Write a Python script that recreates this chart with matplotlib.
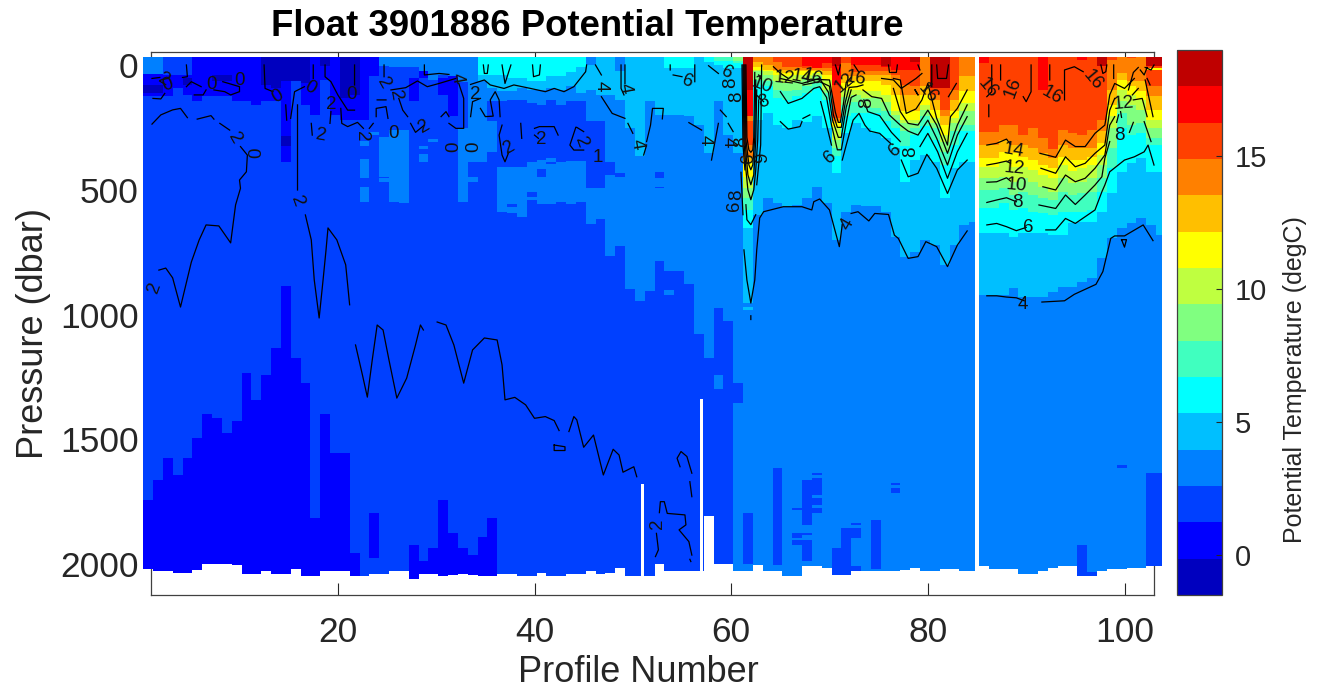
import numpy as np
import matplotlib
matplotlib.use('Agg')
import matplotlib.pyplot as plt
from matplotlib.colors import ListedColormap

plt.rcParams['font.family'] = ['Liberation Sans', 'DejaVu Sans']

### 0. Values (pressures in dbar, profiles 1..104)

jet15 = [(0, 0, .75), (0, 0, 1), (0, .25, 1), (0, .5, 1), (0, .75, 1), (0, 1, 1),
         (.25, 1, .75), (.5, 1, .5), (.75, 1, .25), (1, 1, 0), (1, .75, 0),
         (1, .5, 0), (1, .25, 0), (1, 0, 0), (.75, 0, 0)]
# temperature standing for each colour band, coldest first
navy, blue, royal, azure, sky, cyan, turq, green, lime, yellow, amber, orange, redor, red, dark = \
    -0.8, 0.5, 1.9, 3.3, 4.6, 6.0, 7.4, 8.7, 10.1, 11.5, 12.8, 14.2, 15.6, 16.9, 18.3

bottom = [2020, 2028, 2028, 2036, 2036, 2024, 2000, 2000, 2000, 2004, 2040, 2040, 2028, 2040, 2040, 2020,
          2048, 2048, 2028, 2028, 2028, 2048, 2048, 2040, 2040, 2028, 2028, 2060, 2040, 2040, 2048, 2044,
          2040, 2044, 2048, 2048, 2040, 2040, 2048, 2048, 2036, 2048, 2048, 2040, 2040, 2028, 2040, 2036,
          2016, 2048, 2048, 2048, 2000, 2028, 2028, 2028, 2028, 1807, 2000, 2000, 2028, 2028, 2004, 2028,
          2028, 2048, 2048, 2008, 2008, 2016, 2044, 2044, 2028, 2028, 2028, 2028, 2028, 2024, 2016, 2028,
          2028, 2020, 2020, 2028, 2028, 2008, 2020, 2020, 2020, 2040, 2040, 2028, 2016, 2008, 2008, 2048,
          2048, 2028, 2020, 2020, 2016, 2016, 2008, 2008]

# top of the deep cold water, profiles 1..36 (2100 = none)
deep_top = [1743, 1663, 1575, 1643, 1575, 1495, 1398, 1414, 1475, 1426, 1234, 1342, 1242, 1134, 886, 1174,
            1274, 1815, 1398, 1555, 1555, 1955, 2100, 2100, 2100, 2100, 2100, 1923, 1988, 1935, 1743, 1875,
            1935, 1963, 1891, 1815]

# lower limit of the azure band, profiles 34..60
azure_low = [388, 388, 350, 588, 594, 614, 541, 557, 557, 549, 557, 549, 637, 617, 765, 725, 898, 946, 906,
             785, 826, 826, 878, 1078, 1174, 974, 1026]
# cold tongue inside it, profiles 36..49
tongue_top = [147, 147, 140, 140, 154, 160, 140, 160, 147, 147, 227, 227, 388, 434]
tongue_low = [227, 408, 408, 408, 388, 381, 374, 388, 385, 385, 494, 494, 440, 448]

# isotherm depths, profiles 25..60
sky_low_a = [-15, 10, -40, -40, 30, 30, 20, 40, 50, 67, 67, 94, 107, 107, 94, 100, 100, 94, 100, 87, 114,
             100, 120, 120, 140, 254, 367, 147, 200, 200, 200, 207, 241, 354, 147, 280]
cyan_low_a = [-40, -20, -40, -40, 0, 0, -15, 0, 20, 25, 40, 40, 40, 54, 54, 64, 64, 47, 47, 30, 10,
              -40, -40, -40, -40, -40, -40, -40, -40, 14, 14, 14, -40, -10, 0, 14]
turq_low_a = [-13, -13]   # profiles 59, 60

# isotherm depths, profiles 61..104 (-40 = band absent)
b397 = [354, 946, 600, 535, 555, 568, 561, 535, 490, 555, 700, 588, 560, 565, 565, 588, 688, 768, 748, 700,
        722, 802, 722, 641, 628, 922, 922, 922, 895, 930, 930, 930, 910, 889, 889, 868, 855, 775, 695, 655,
        635, 615, 641, 681]
b533 = [13, 652, 221, 194, 241, 254, 221, 230, 207, 254, 434, 274, 234, 254, 274, 294, 334, 468, 381, 361,
        388, 535, 414, 388, 388, 675, 675, 675, 688, 675, 675, 675, 681, 681, 635, 628, 628, 588, 515, 428,
        394, 374, 428, 428]
b670 = [-7, 581, 80, 87, 134, 140, 127, 114, 94, 140, 367, 207, 194, 194, 194, 227, 254, 327, 281, 247,
        301, 400, 321, 267, 267, 575, 575, 555, 581, 575, 588, 595, 601, 588, 588, 588, 581, 508, 414, 254,
        280, 274, 320, 320]
b807 = [-13, 535, 60, 67, 100, 107, 100, 87, 74, 114, 334, 160, 150, 170, 172, 187, 220, 267, 254, 207,
        254, 350, 267, 240, 240, 501, 501, 494, 521, 508, 521, 535, 541, 508, 521, 515, 508, 454, 334, 194,
        240, 234, 294, 294]
b943 = [-40, 494, 27, 40, 67, 74, 67, 57, 47, 100, 300, 130, 120, 134, 134, 150, 200, 234, 234, 180,
        234, 310, 234, 187, 187, 454, 454, 448, 468, 454, 468, 488, 508, 454, 474, 468, 454, 400, 254, 147,
        160, 180, 254, 254]
b1080 = [-40, 448, 20, 27, 40, 47, 40, 40, 33, 60, 250, 100, 100, 107, 107, 120, 187, 220, 220, 160,
         214, 281, 214, 154, 154, 408, 408, 388, 408, 408, 421, 441, 454, 401, 427, 414, 401, 361, 207, 100,
         120, 140, 220, 220]
b1217 = [-40, 388, 10, 20, 27, 33, 27, 27, 27, 40, 234, 74, 67, 67, 67, 80, 120, 187, 187, 120,
         180, 240, 187, 107, 107, 374, 374, 348, 354, 368, 381, 401, 414, 368, 381, 381, 368, 314, 160, 60,
         87, 107, 180, 180]
b1353 = [-40, 368, -10, 0, 20, 20, 20, 20, 20, 25, 227, 47, 47, 40, 40, 40, 60, 120, 120, 87,
         140, 207, 140, 47, 47, 321, 321, 301, 321, 321, 334, 354, 374, 321, 334, 334, 334, 267, 100, 33,
         67, 67, 127, 127]
b1490 = [-40, 320, -40, -40, -10, 10, 10, 15, 10, 15, 214, -5, 30, 25, 25, 27, 40, 80, 87, -40,
         120, 180, 100, -40, -40, 270, 270, 241, 241, 281, 254, 294, 337, 261, 274, 280, 261, 220, -20, -40,
         -27, -30, 87, 87]
b1630 = [-40, 207, -40, -40, -40, -40, -40, 5, 15, -5, 80, -40, 0, 0, 0, 10, 20, 20, 20, -40,
         94, 94, -40, -40, -40, -5, -40, -40, -40, -40, -40, 100, -40, -40, -40, -20, -40, 7, -40, -40,
         -40, -40, -40, -40]
b1760 = [-40, 100, -40, -40, -40, -40, -40, -40, -40, -40, 7, -40, -40, -40, -40, 7, -40, -40, -10, -40,
         94, 94, -40, -40, -40, -40, -40, -40, -40, -40, -40, -40, -40, -40, -40, -40, -40, 7, -40, -40,
         -40, -40, 7, 7]

# small patches: profile, upper, lower
azure_patch = [(1, -40, 38), (2, -40, 38), (23, 377, 454), (23, 489, 548), (23, 307, 327), (24, 270, 281),
               (25, 289, 448), (25, 454, 468), (26, 261, 548), (27, 261, 555), (29, 327, 337), (29, 357, 388),
               (30, 297, 310), (33, 254, 548), (34, 200, 261), (34, 448, 468), (25, -40, 5), (26, -40, 10),
               (27, -40, 10), (28, -40, 10), (29, -40, 50), (30, -40, 60), (31, -40, 40), (32, -40, 50),
               (33, -40, 70), (34, -40, 100), (54, 900, 921), (59, 1242, 1300), (46, -40, 0), (49, -40, 27)]
royal_patch = [(53, 428, 454), (53, 488, 494), (40, 508, 528), (39, 608, 614), (38, 558, 568), (41, 417, 448),
               (42, 388, 396), (61, 1275, 1355), (62, 1796, 2000), (65, 1615, 2004), (67, 1775, 1784),
               (67, 1876, 1896), (67, 1904, 1924), (68, 1663, 1844), (68, 1876, 1884), (68, 1904, 1988),
               (69, 1635, 1643), (69, 1655, 1723), (69, 1735, 1763), (69, 1775, 1796), (71, 1936, 2044),
               (72, 1856, 2044), (73, 1836, 1844), (73, 1856, 1896), (73, 2008, 2028), (75, 1824, 2020),
               (77, 1675, 1683), (77, 1695, 1715), (96, 1924, 2048), (100, 1603, 1615), (103, 1635, 2008),
               (104, 1635, 2008), (97, 2030, 2048)]
blue_patch = [(1, 38, 127), (2, 38, 127), (3, 40, 127), (4, 40, 94), (5, 40, 120), (6, -40, 147), (7, -40, 127),
              (8, -40, 127), (9, -40, 127), (10, -40, 147), (11, -40, 147), (12, -40, 160), (13, -40, 147),
              (14, -40, 147), (15, -40, 388), (16, -40, 67), (17, -40, 160), (18, -40, 200), (19, -40, 60),
              (20, -40, 200), (21, -40, 220), (22, -40, 220), (23, -40, 220), (24, -40, 47), (28, 54, 147),
              (29, 27, 54), (31, 54, 120), (32, 47, 207), (24, 1795, 1975)]
navy_patch = [(1, 80, 114), (2, 80, 114), (5, 54, 80), (8, 40, 67), (9, 40, 67), (13, -40, 80), (14, -40, 94),
              (15, -40, 67), (15, 287, 327), (16, -40, 67), (17, -40, 74), (19, -40, 7), (21, -40, 134),
              (22, -40, 120)]
sky_patch = [(62, 946, 954), (62, 968, 980), (54, 0, 0)]
orange_patch = [(62, 207, 227)]
yellow_patch = [(103, 14, 22), (104, 14, 22)]

missing_profile = [51, 57, 85]
missing_from = [1679, 1338, -40]

# contour lines: (profile, pressure), None breaks a line
iso0 = [(1.1, 54), (1.9, 50), None, (1.2, 134), (2, 136), (2.4, 114), None, (4.6, 0), (4.7, 47), (4.2, 50), None,
        (4.6, 87), (5.1, 67), (6.1, 87), None, (5.4, 120), (6.3, 120), (6.6, 100), None, (8.3, 67), (10, 87),
        (10, 107), (9.1, 120), (8.5, 107), (7.4, 100), None, (12.5, 0), (12.6, 94), (13.4, 107), None,
        (14.7, 160), (14.8, 221), None, (15.2, 214), (15.6, 107), (16.6, 87), None, (17.5, 0), (17.5, 54), None,
        (18.7, 0), (18.7, 47), (19.3, 67), (20, 120), (21, 181), (21.7, 181), None, (21.7, 0), (21.7, 80)]
iso2 = [(1.1, 237), (2, 200), (3.2, 180), (4, 174), (4.7, 211), None, (5.7, 217), (7.1, 203), (7.4, 217), None,
        (8, 234), (9, 261), None, (10.1, 327), (10.8, 361), (10.7, 428), (10, 461), (10.1, 494), (9.6, 561),
        (9.1, 713), (7.9, 645), (6.6, 641), (5.9, 701), (5.1, 790), (4, 970), (3.2, 853), (2.5, 814), (1.8, 822),
        None, (1.2, 940), None,
        (15.9, 160), (15.9, 501), None, (16.7, 601), (17.3, 701), (17.6, 861), (18.1, 1014), (18.5, 861),
        (18.8, 741), (19, 653), (19.9, 701), (20.8, 801), (21.2, 961), None, (21.8, 1122), (22.5, 1242),
        (23, 1331), (23.5, 1182), (24, 1042), (24.6, 1062), (25.2, 1182), (26, 1335), (27, 1255), (27.9, 1122),
        (28.4, 1042), (28.7, 1062), None, (30.1, 1030), (31, 1042), (31.8, 1122), (32.8, 1275), (33.7, 1142),
        (34.9, 1094), (36.2, 1102), (36.7, 1202), (37, 1342), (38, 1332), (39.1, 1362), (40, 1416), (41.1, 1409),
        (42, 1425), (42.5, 1465), None, (43.5, 1469), (44, 1409), (44.3, 1422), (45, 1532), (46, 1483),
        (47, 1643), (48, 1540), (48.6, 1563), (49, 1632), (50.1, 1610), (50.4, 1650), None,
        (42, 1523), (43.1, 1530), (43.1, 1545), (42, 1545), (42, 1523), None,
        (52.7, 1794), (52.8, 1750), (53.2, 1750), (53.5, 1797), (55.3, 1803), (55.4, 1843), (54.7, 1863),
        (55.7, 1910), (56, 1964), None, (55.8, 1981), (55.9, 1990), None,
        (54.8, 1610), (54.5, 1576), (54.9, 1549), (55.5, 1569), (56, 1636), None, (55.8, 1670), (56, 1730), None,
        (52.4, 1877), (52.6, 1943), (52.3, 1970), None,
        (17.3, 234), (17.4, 281), None, (19.3, 187), (19.2, 234), None, (20.3, 174), (20.4, 234), (21, 247),
        (22, 230), (22.6, 254), None, (23.2, 254), (23.6, 234), None, (23.9, 207), (23.9, 174), (24.9, 167),
        (25.1, 214), None, (24, 140), (24.9, 140), None, (24.7, 0), (24.7, 47), None,
        (25.4, 100), (26.9, 91), (28.1, 64), (29.1, 87), (30.3, 74), (32, 54), None,
        (26.2, 134), (26.6, 181), (27.1, 207), None, (27.4, 234), (27.9, 270), (28.8, 241), None,
        (30.5, 207), (31, 187), (31.3, 207), None, (31.3, 234), (32, 254), (32.8, 254), (32.8, 134), (32.3, 74), None,
        (33.5, 207), (33.7, 147), (34.5, 134), None, (34.5, 174), (35, 207), (35.8, 205), (35.5, 140), (36, 107),
        (36.4, 140), (36.5, 207), None, (36.7, 241), (36.4, 281), (36.7, 361), (37, 388), (37.4, 348), None,
        (38.6, 234), (38.7, 294), None, (40, 254), (40.5, 247), (42, 247), (42.4, 281), None,
        (40, 281), (40.4, 294), None, (44.2, 250), (43.6, 321), (44, 341), (45, 341), None, (44.3, 250), (45, 267)]
iso4 = [(28.8, 0), (28.8, 40), (30.3, 34), (31.3, 38), None, (33.5, 78), (34.9, 60), (35.5, 80), (36.9, 94),
        (37.9, 80), (39.6, 94), (41.1, 107), (42, 94), (43, 107), (44, 87), (45.2, 27), (45.3, 0), None,
        (34.8, 0), (34.9, 34), (35.2, 34), (35.3, 0), None, (36.7, 0), (37, 74), (37.6, 0), None,
        (39.8, 0), (39.9, 47), (40.5, 40), (40.6, 0), None, (46.2, 0), (46.8, 40), None,
        (46.8, 127), (47.9, 194), (49.2, 214), None, (49.5, 234), (50, 274), None, (51.4, 321), (51.1, 361), None,
        (51.4, 307), (51.8, 241), (52, 174), (53.1, 174), (53, 216), None, (48.8, 0), (48.8, 94), (49.1, 120), None,
        (49.2, 0), (49.2, 74), None, (55.7, 231), (57, 261), None, (58, 381), (58.7, 234), None,
        (58.9, 181), (59.5, 207), None, (59.7, 234), (60.2, 267), None,
        (61, 430), (61.2, 600), None, (61.3, 741), (61.6, 862), (62, 954), (62.4, 862), (62.6, 741), (62.9, 613),
        (63.3, 588), (65.3, 568), (67.2, 568), (68.2, 581), (68.4, 548), (69, 537), (70, 581), (71, 728), (71.3, 640),
        None, (72.2, 595), (72.9, 588), (74, 625), (74.6, 595), (76, 599), (76.6, 682), (77, 695), (78, 775),
        (79, 768), (79.8, 708), (80.9, 728), (82, 808), (83, 722), (84, 665), None, (62, 1005), (62, 1020), None,
        (86, 925), (87, 925), (88, 930), (89, 933), (89.8, 945), None, (91.6, 950), (93.9, 945), (94.9, 919),
        (97.1, 879), (97.8, 828), (98.6, 695), (99, 685), (100, 685), (101.9, 641), (102.9, 704), None,
        (99.7, 700), (100, 730), (100.2, 700), (99.7, 700)]
iso6 = [(53.8, 0), (53.8, 20), None, (54.1, 40), (55, 47), None, (56.3, 0), (56.3, 67), None, (57.7, 3), (58.7, 34), None,
        (61.1, 0), (61.2, 320), (61.4, 420), None, (61.5, 560), (61.6, 620), (62, 640), (62.5, 600), None,
        (62.6, 480), (63, 320), (63.1, 0), None, (65, 227), (65.8, 257), (67, 247), (67.2, 227), None,
        (67.3, 214), (68, 200), None, (69.1, 147), (69.5, 207), (70.2, 321), None, (71.3, 381), (71.7, 321),
        (72.4, 221), (73, 194), (73.6, 241), (74.1, 265), (75.1, 274), (76.2, 314), None,
        (77.3, 381), (78, 448), (79, 434), (79.9, 358), (80.9, 414), (82, 515), (83, 421), (84, 381), None,
        (86, 641), (87, 635), (88, 648), (89, 664), (90, 651), None, (92, 661), (93, 661), (94, 615), (95, 635),
        (97, 581), (97.7, 508), (98, 481), (98.5, 428), (100, 381), (101, 368), (102, 348), (102.4, 321), (103, 401)]
iso8 = [(61.2, 0), (61.3, 300), (61.5, 420), (61.7, 500), (62, 540), (62.3, 500), (62.5, 420), (62.7, 300), (62.8, 140), None,
        (62.4, 114), (63.3, 147), None, (65, 107), (65.8, 154), (67.2, 134), (68.4, 94), (69, 87), (69.7, 130),
        (70.2, 240), (70.8, 340), (71.2, 340), (71.8, 210), (72.2, 130), (72.7, 120), None,
        (73.5, 140), (73.9, 187), (75.1, 203), (76.3, 270), (77.2, 307), None, (79.2, 327), (80, 274), (81, 348),
        (82, 454), (83, 348), (84, 274), None, (86, 551), (87, 541), (88, 532), (89, 548), None, (91.3, 561), (93, 575),
        (94, 521), (95, 559), (96, 521), (97, 481), (97.7, 448), (98, 374), (98.5, 307), None, (99.2, 230), (99.4, 200), None,
        (100.5, 270), (100.9, 230), None, (102, 227), (102.7, 307)]
iso10 = [(61.3, 0), (61.4, 300), (61.7, 440), (62, 480), (62.3, 440), (62.5, 300), (62.6, 100), None,
         (62.8, 40), (63, 54), None, (65, 54), (67.2, 74), (69, 54), (69.9, 110), (70.3, 220), (70.9, 290), (71.2, 290),
         (71.7, 170), (72.2, 100), None, (73.4, 100), (74.3, 127), (75.3, 134), (76.1, 201), (77.2, 241), (78, 265),
         (79, 281), (80, 221), (80.9, 294), (82, 401), (83, 281), (84, 207), None,
         (86, 470), (87, 468), (88, 452), (88.4, 465), None, (91.7, 488), (93, 501), (94, 441), (95, 468), (96, 454),
         (97, 414), (98, 361), (98.5, 241), (99, 207), None, (99.6, 187), (99.7, 210), None, (102.1, 60), (102.9, 207)]
iso12 = [(61.4, 0), (61.5, 300), (61.8, 400), (62, 420), (62.2, 400), (62.4, 290), (62.5, 60), None,
         (64.3, 7), (65, 33), (65.8, 54), None, (67.3, 80), (69, 67), (70, 85), (70.4, 200), (70.8, 250), (71.2, 250),
         (71.6, 150), (72, 90), (72.8, 87), (73.4, 80), None, (76.5, 94), (77.2, 187), (78, 234), (79, 241), (80, 181),
         (80.9, 241), (82, 354), (83, 241), (84, 160), None, (86, 401), (87, 394), (88, 385), (88.4, 394), None,
         (91.5, 414), (93, 434), (94, 368), (95, 408), (96, 394), (97, 354), (98, 321), (98.5, 181), (99, 134), None,
         (100.9, 140), (101.8, 134), (102.3, 207), None, (100.8, 120), (101.4, 94)]
iso14 = [(61.5, 0), (61.6, 290), (61.8, 340), (62, 350), (62.2, 340), (62.3, 290), (62.4, 30), None,
         (68.1, 57), (70, 60), (70.6, 190), (70.9, 230), (71.1, 230), (71.4, 160), (71.7, 70), (72.2, 50), None,
         (76.5, 54), (77.2, 60), (77.8, 194), (78.8, 176), (79.4, 140), (80, 74), (80.9, 214), (82, 321), (82.3, 207),
         (83, 174), (84, 100), None, (86, 321), (87, 314), (88, 297), (88.4, 317), None, (91.4, 354), (93, 370),
         (94, 301), (95, 327), (96, 327), (97, 274), (98, 241), (98.5, 120), (99, 74), (100, 94), (101, 54), None,
         (100.4, 100), (100.9, 30), (101.4, 10), None, (102.3, 54), (102.6, 80)]
iso16 = [(75.3, 54), (76.5, 60), (77.3, 94), (78.8, 54), (79.4, 34), None, (78.7, 100), (79, 120), (78.7, 100), None,
         (80.4, 0), (80.4, 87), None, (80.9, 0), (81, 54), (81.9, 54), (82.1, 0), None, (82.1, 127), (82.9, 74), None,
         (86.5, 0), (86.5, 107), (86, 127), None, (86.2, 160), (86.2, 207), None, (87.4, 0), (87.4, 60), None,
         (90.5, 0), (90.5, 107), (90, 147), (89.7, 127), None, (92.4, 0), (92.4, 60), None,
         (93.9, 140), (93.9, 20), (94.9, 7), (95.8, 27), None, (97.6, 0), (97.8, 34), (98.1, 27), (98.2, 0), None,
         (98.9, 0), (98.9, 54), None, (76, 0), (76.1, 30), (76.8, 30), (76.9, 0), None, (70.6, 0), (70.9, 40), (71.1, 0), None,
         (72.5, 0), (73, 30), None, (79, 0), (79.2, 20), None, (102.1, 10), (102.7, 20), (103, 0), None,
         (101.6, 20), (102, 40), (102.3, 10)]

# contour labels
label_x = [1.4, 2.3, 2.7, 7.2, 10.0, 9.5, 11.8, 13.9, 17.2, 19.3, 21.4, 18.3, 15.9, 22.4, 24.6, 25.8, 25.7, 28.8,
           31.8, 33.8, 32.1, 34.0, 37.4, 40.7, 44.7, 46.4, 46.8, 49.2, 50.4, 55.6, 59.6, 57.4, 63.1, 63.3, 65.4,
           59.9, 60.6, 59.7, 61.1, 61.8, 63.2, 60.6, 60.3, 67.2, 68.2, 71.5, 72.7, 73.8, 70.1, 71.8, 76.7, 78.3, 80,
           86.1, 88.7, 92.6, 96.8, 88.7, 88.8, 89.0, 89.1, 90.2, 99.9, 99.5, 89.7, 52.5]
label_p = [890, 58, 80, 78, 62, 292, 350, 128, 92, 160, 120, 284, 548, 284, 72, 120, 276, 248, 328, 328, 52, 120,
           332, 300, 312, 372, 84, 92, 316, 68, 32, 300, 80, 148, 52, 72, 128, 308, 308, 372, 372, 520, 564, 48, 48,
           72, 52, 152, 368, 640, 340, 348, 112, 92, 92, 120, 60, 344, 416, 484, 552, 652, 156, 284, 960, 1839]
label_text = ['2', '2', '0', '0', '0', '2', '0', '0', '0', '2', '0', '2', '2', '2', '2', '2', '0', '2', '0', '0', '4',
              '2', '2', '2', '2', '1', '4', '4', '4', '6', '6', '4', '10', '8', '12', '8', '8', '4', '8', '6', '9',
              '8', '6', '14', '16', '12', '16', '8', '6', '4', '6', '8', '16', '16', '16', '16', '16', '14', '12',
              '10', '8', '6', '12', '8', '4', '2']
label_rot = [70, -30, 20, 0, 0, -60, 90, 30, -30, 0, 0, -10, -70, -90, -60, -80, 0, 30, 90, 90, -80, 0, 30, 0, -70, 0,
             -90, -80, -80, -20, -30, -90, -20, 20, -5, 90, 90, -90, 90, 90, 90, 90, 90, -10, -20, 40, -10, 90, 40, 60,
             40, 90, -50, -50, 70, -30, -50, -10, -5, -5, 0, 0, 5, 0, 0, 90]

### 1. Build the temperature section

edges_x = np.append(np.arange(104) + 0.22, 103.8)
edges_p = np.arange(-32, 2071, 2.0)
mid_p = 0.5 * (edges_p[:-1] + edges_p[1:])
theta = np.full((len(mid_p), 104), royal)


def fill(profiles, upper, lower, value):
    for c, t, b in zip(profiles, upper, lower):
        theta[(mid_p >= t) & (mid_p < b), c - 1] = value


def fill_patch(patches, value):
    for c, t, b in patches:
        theta[(mid_p >= t) & (mid_p < b), c - 1] = value


cols = list(range(1, 37))
fill(cols, deep_top, [2100] * 36, blue)
cols = list(range(34, 61))
fill(cols, [-40] * 27, azure_low, azure)
fill(range(61, 105), [-40] * 44, [2100] * 44, azure)
fill(range(36, 50), tongue_top, tongue_low, royal)
fill(range(25, 61), [-40] * 36, sky_low_a, sky)
fill(range(25, 61), [-40] * 36, cyan_low_a, cyan)
fill([59, 60], [-40] * 2, turq_low_a, turq)

warm = [(b397, sky), (b533, cyan), (b670, turq), (b807, green), (b943, lime), (b1080, yellow), (b1217, amber),
        (b1353, orange), (b1490, redor), (b1630, red), (b1760, dark)]
for low, value in warm:
    fill(range(61, 105), [-40] * 44, low, value)

fill_patch(azure_patch, azure)
fill_patch(royal_patch, royal)
fill_patch(blue_patch, blue)
fill_patch(navy_patch, navy)
fill_patch(sky_patch, sky)
fill_patch(orange_patch, orange)
fill_patch(yellow_patch, yellow)

for c, b in enumerate(bottom):
    theta[mid_p >= b, c] = np.nan

### 2. Plot

fig = plt.figure(figsize=(13.28, 6.89), dpi=100)
ax = fig.add_axes([151 / 1328, 1 - 595 / 689, (1154 - 151) / 1328, (595 - 52) / 689])
cmap = ListedColormap(jet15)
cmap.set_bad('white', 0)
mesh = ax.pcolormesh(edges_x, edges_p, np.ma.masked_invalid(theta), cmap=cmap, vmin=-1.5, vmax=19, zorder=3, clip_on=False)
ax.bar(missing_profile, [2090 - m for m in missing_from], width=0.32, bottom=missing_from, color='white', zorder=3.5)

for line in [iso0, iso2, iso4, iso6, iso8, iso10, iso12, iso14, iso16]:
    xs = [np.nan if q is None else q[0] for q in line]
    ps = [np.nan if q is None else q[1] for q in line]
    ax.plot(xs, ps, color='black', lw=0.9, zorder=4, clip_on=False)

for x, p, t, r in zip(label_x, label_p, label_text, label_rot):
    ax.text(x, p, t, fontsize=13.5, rotation=r, ha='center', va='center', color='#111111', zorder=5)

ax.set_xlim(1, 103)
ax.set_ylim(2124, -52)
ax.set_xticks([20, 40, 60, 80, 100])
ax.set_yticks([0, 500, 1000, 1500, 2000])
ax.tick_params(direction='in', length=9, width=0.8, color='#262626', labelcolor='#262626', labelsize=25.5, top=True, right=True)
ax.tick_params(axis='x', pad=15)
ax.tick_params(axis='y', pad=9)
for s in ax.spines.values():
    s.set_color('#404040')
    s.set_linewidth(0.9)
ax.set_xlabel('Profile Number', fontsize=26, color='#262626')
ax.xaxis.set_label_coords(0.486, -0.11)
ax.set_ylabel('Pressure (dbar)', fontsize=26, color='#262626')
ax.yaxis.set_label_coords(-0.1, 0.482)
fig.text(587 / 1328, 1 - 27 / 689, 'Float 3901886 Potential Temperature', fontsize=26.3, fontweight='bold',
         color='black', ha='center', va='center')

cax = fig.add_axes([1177 / 1328, 1 - 595 / 689, 45 / 1328, (595 - 50) / 689])
cb = fig.colorbar(mesh, cax=cax, ticks=[0, 5, 10, 15])
cb.ax.tick_params(direction='in', length=4, width=0.8, color='#262626', labelcolor='#262626', labelsize=21, pad=9)
cb.outline.set_edgecolor('#404040')
cb.outline.set_linewidth(0.9)
fig.text(1295 / 1328, 1 - 380 / 689, 'Potential Temperature (degC)', fontsize=18, rotation=90, color='#262626',
         ha='center', va='center')

fig.savefig('out.png', dpi=100)
